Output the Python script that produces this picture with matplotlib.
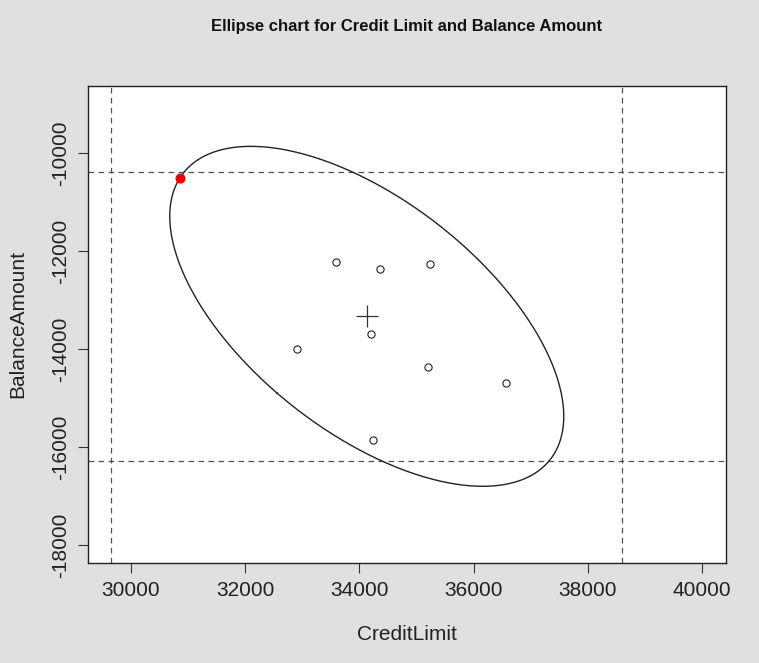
import numpy as np
import matplotlib
matplotlib.use("Agg")
import matplotlib.pyplot as plt

# ---- data ----
credit_limit = [33584, 34358, 35233, 34208, 32914, 35210, 36573, 34236, 30857]
balance_amount = [-12233, -12367, -12259, -13693, -13993, -14374, -14692, -15854, -10512]
outlier_index = 8
vlines_x = [29650, 38607]
hlines_y = [-10398, -16281]
x_ticks = [30000, 32000, 34000, 36000, 38000, 40000]
y_ticks = [-10000, -12000, -14000, -16000, -18000]
x_limits = (29250, 40420)
y_limits = (-18360, -8635)
title = "Ellipse chart for Credit Limit and Balance Amount"
x_label = "CreditLimit"
y_label = "BalanceAmount"

plt.rcParams['font.family'] = ['Liberation Sans', 'DejaVu Sans']

W, H = 759, 663
fig = plt.figure(figsize=(W / 100, H / 100), dpi=100, facecolor='#e0e0e0')
ax = fig.add_axes([88 / W, 1 - 563 / H, (726 - 88) / W, (563 - 86) / H])
ax.set_facecolor('white')

x = np.array(credit_limit, float)
y = np.array(balance_amount, float)
mean = np.array([x.mean(), y.mean()])
cov = np.cov(np.vstack([x, y]))
inv = np.linalg.inv(cov)
d = np.vstack([x, y]).T - mean
r = np.sqrt(np.max(np.einsum('ij,jk,ik->i', d, inv, d)))
vals, vecs = np.linalg.eigh(cov)
t = np.linspace(0, 2 * np.pi, 400)
circ = np.vstack([np.cos(t), np.sin(t)])
ell = (vecs @ np.diag(np.sqrt(vals)) @ circ) * r + mean[:, None]
ax.plot(ell[0], ell[1], color='#222222', lw=1.0, zorder=2)

for vx in vlines_x:
    ax.axvline(vx, color='#505050', lw=0.9, ls=(0, (4.5, 3.5)), zorder=1)
for hy in hlines_y:
    ax.axhline(hy, color='#505050', lw=0.9, ls=(0, (4.5, 3.5)), zorder=1)

mask = np.ones(len(x), bool)
mask[outlier_index] = False
ax.plot(x[mask], y[mask], 'o', ms=5.2, mfc='white', mec='#222222', mew=0.8, zorder=3)
ax.plot(x[outlier_index], y[outlier_index], 'o', ms=6.2, mfc='#ee0000', mec='#ee0000', zorder=4)
ax.plot(mean[0], mean[1], '+', ms=15.5, color='#333333', mew=0.9, zorder=4)

ax.set_xlim(*x_limits)
ax.set_ylim(*y_limits)
ax.set_xticks(x_ticks)
ax.set_yticks(y_ticks)
ax.set_xticklabels([str(v) for v in x_ticks], fontsize=15, color='#222222')
ax.set_yticklabels([str(v) for v in y_ticks], fontsize=15, color='#222222',
                   rotation=90, va='center')
ax.tick_params(axis='x', length=7.2, width=0.8, pad=5.5, color='#333333')
ax.tick_params(axis='y', length=7.2, width=0.8, pad=6, color='#333333')
for s in ax.spines.values():
    s.set_linewidth(1.0)
    s.set_color('#222222')

fig.text(407 / W, 1 - 27 / H, title, ha='center', va='center', fontsize=12,
         fontweight='bold', color='#111111')
fig.text(407 / W, 1 - 634 / H, x_label, ha='center', va='center', fontsize=15, color='#222222')
fig.text(18 / W, 1 - 324 / H, y_label, ha='center', va='center', fontsize=15,
         rotation=90, color='#222222')

fig.savefig('out.png', dpi=100, facecolor=fig.get_facecolor())
